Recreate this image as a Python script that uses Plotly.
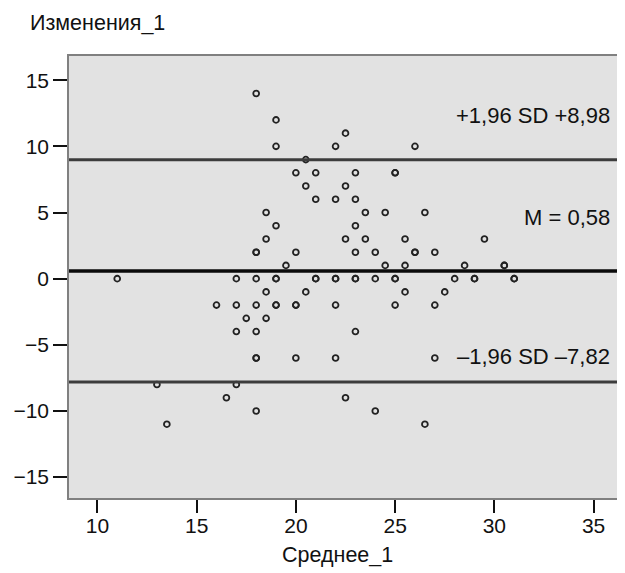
import plotly.graph_objects as go

# Bland-Altman data: mean of two measurements (x) vs difference (y)
x_mean = [
    18,
    19,
    22.5,
    19, 22, 26,
    20.5,
    20, 21, 23, 25, 25,
    20.5, 22.5,
    21, 22, 23,
    18.5, 23.5, 24.5, 26.5,
    19, 23,
    18.5, 22.5, 23.5, 25.5, 29.5,
    18, 18, 20, 23, 24, 26, 26, 27,
    19.5, 24.5, 25.5, 28.5, 30.5, 30.5,
    11, 17, 18, 19, 19, 21, 21, 22, 22, 23, 23, 24, 25, 25, 28, 29, 29, 31, 31,
    18.5, 20.5, 25.5, 27.5,
    16, 17, 18, 19, 19, 20, 20, 22, 25, 27,
    17.5, 18.5,
    17, 18, 23,
    18, 18, 20, 22, 27,
    13, 17,
    16.5, 22.5,
    18, 24,
    13.5, 26.5,
]
y_diff = [
    14,
    12,
    11,
    10, 10, 10,
    9,
    8, 8, 8, 8, 8,
    7, 7,
    6, 6, 6,
    5, 5, 5, 5,
    4, 4,
    3, 3, 3, 3, 3,
    2, 2, 2, 2, 2, 2, 2, 2,
    1, 1, 1, 1, 1, 1,
    0, 0, 0, 0, 0, 0, 0, 0, 0, 0, 0, 0, 0, 0, 0, 0, 0, 0, 0,
    -1, -1, -1, -1,
    -2, -2, -2, -2, -2, -2, -2, -2, -2, -2,
    -3, -3,
    -4, -4, -4,
    -6, -6, -6, -6, -6,
    -8, -8,
    -9, -9,
    -10, -10,
    -11, -11,
]

mean_diff = 0.58
upper_loa = 8.98
lower_loa = -7.82
line_labels = ["+1,96 SD +8,98", "M = 0,58", "\u20131,96 SD \u20137,82"]
label_y = [12.3, 4.6, -5.85]

x_ticks = [10, 15, 20, 25, 30, 35]
y_ticks = [-15, -10, -5, 0, 5, 10, 15]
x_title = "Среднее_1"
y_title = "Изменения_1"

FONT = "Liberation Sans, Arial, sans-serif"

fig = go.Figure()
fig.add_trace(go.Scatter(
    x=x_mean, y=y_diff, mode="markers",
    marker=dict(symbol="circle-open", size=5.8, color="#222222",
                line=dict(width=1.8, color="#222222")),
    showlegend=False, hoverinfo="x+y",
))

for val, col, w in [(upper_loa, "#3c3c3c", 3), (mean_diff, "#0a0a0a", 3.5), (lower_loa, "#3c3c3c", 3)]:
    fig.add_shape(type="line", xref="paper", x0=0, x1=1, yref="y", y0=val, y1=val,
                  line=dict(color=col, width=w), layer="above")

for txt, yy in zip(line_labels, label_y):
    fig.add_annotation(text=txt, xref="paper", x=0.984, xanchor="right",
                       yref="y", y=yy, yanchor="middle", showarrow=False,
                       font=dict(family=FONT, size=22, color="#111111"))

fig.add_annotation(text=y_title, xref="paper", x=-0.075, xanchor="left",
                   yref="paper", y=1.075, yanchor="middle", showarrow=False,
                   font=dict(family=FONT, size=21.5, color="#111111"))
fig.add_annotation(text=x_title, xref="paper", x=0.487, xanchor="center",
                   yref="paper", y=-0.128, yanchor="middle", showarrow=False,
                   font=dict(family=FONT, size=21.5, color="#111111"))

fig.update_xaxes(range=[8.57, 36.38], tickvals=x_ticks, ticks="outside", ticklen=13,
                 tickwidth=2, tickcolor="#111111", showgrid=False, zeroline=False,
                 showline=True, mirror=True, linecolor="#808080", linewidth=1.5,
                 automargin=False, ticklabelstandoff=-5,
                 tickfont=dict(family=FONT, size=21, color="#111111"))
fig.update_yaxes(range=[-16.58, 16.83], tickvals=y_ticks, ticks="outside", ticklen=14,
                 tickwidth=2, tickcolor="#111111", showgrid=False, zeroline=False,
                 showline=True, mirror=True, linecolor="#808080", linewidth=1.5,
                 automargin=False,
                 tickfont=dict(family=FONT, size=21, color="#111111"))

# page body has an 8px default margin, so the figure is sized/offset to compensate
fig.update_layout(
    width=617, height=565,
    margin=dict(l=61, r=4, t=48, b=75),
    paper_bgcolor="white", plot_bgcolor="#e2e2e2",
    font=dict(family=FONT, color="#111111"),
    showlegend=False,
)

fig.write_html("out.html")
